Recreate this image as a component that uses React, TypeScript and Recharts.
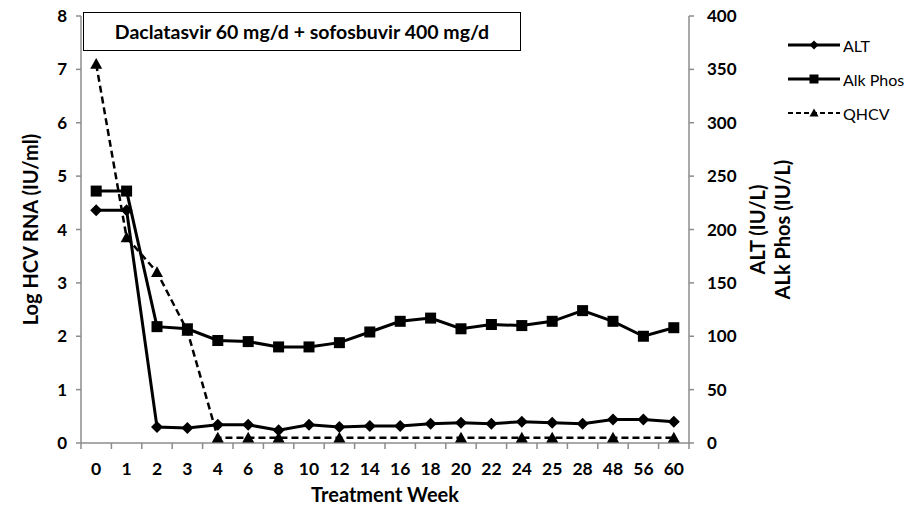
import React from "react";
import { LineChart, Line, XAxis, YAxis, Legend } from "recharts";

const weeks = ["0", "1", "2", "3", "4", "6", "8", "10", "12", "14", "16", "18", "20", "22", "24", "25", "28", "48", "56", "60"];
const alt = [218, 218, 15, 14, 17, 17, 12, 17, 15, 16, 16, 18, 19, 18, 20, 19, 18, 22, 22, 20];
const alkPhos = [236, 236, 109, 107, 96, 95, 90, 90, 94, 104, 114, 117, 107, 111, 110, 114, 124, 114, 100, 108];
const qhcv = [7.1, 3.85, 3.2, 2.1, 0.1, 0.1, 0.1, null, 0.1, null, null, null, 0.1, null, 0.1, 0.1, null, 0.1, null, 0.1];

const leftTicks = [0, 1, 2, 3, 4, 5, 6, 7, 8];
const rightTicks = [0, 50, 100, 150, 200, 250, 300, 350, 400];

const data = weeks.map((w, i) => ({
  week: w,
  alt: alt[i],
  alkPhos: alkPhos[i],
  qhcv: qhcv[i],
}));

const FONT = "Lato, 'Open Sans', sans-serif";
const AXIS = "#8c8c8c";
const W = 911;
const H = 513;
const M = { top: 16, right: 162, bottom: 0, left: 0 };
const LEFT_W = 81;
const RIGHT_W = 60;
const X_H = 70;
const BAND = (W - M.left - M.right - LEFT_W - RIGHT_W) / weeks.length;

const Diamond = ({ cx, cy, r = 6 }: any) => (
  <polygon points={`${cx},${cy - r} ${cx + r},${cy} ${cx},${cy + r} ${cx - r},${cy}`} fill="#000" />
);
const Square = ({ cx, cy, r = 5.5 }: any) => (
  <rect x={cx - r} y={cy - r} width={r * 2} height={r * 2} fill="#000" />
);
const Triangle = ({ cx, cy, r = 6 }: any) => (
  <polygon points={`${cx},${cy - r} ${cx + r},${cy + r * 0.8} ${cx - r},${cy + r * 0.8}`} fill="#000" />
);

// skip markers where the series has no value (QHCV gaps)
const dotOf = (Shape: any) => (p: any) => {
  if (p.cy == null || p.value == null) return <g key={p.key} />;
  return <Shape key={p.key} cx={p.cx} cy={p.cy} />;
};

// tick marks sit on the category boundaries, labels in the middle
const XTick = ({ x, y, payload, index }: any) => (
  <g>
    <line x1={x - BAND / 2} y1={y - 8} x2={x - BAND / 2} y2={y - 2} stroke={AXIS} strokeWidth={1.5} />
    {index === weeks.length - 1 && (
      <line x1={x + BAND / 2} y1={y - 8} x2={x + BAND / 2} y2={y - 2} stroke={AXIS} strokeWidth={1.5} />
    )}
    <text x={x} y={y + 24} textAnchor="middle" fontFamily={FONT} fontWeight="bold" fontSize={17.5} fill="#000">
      {payload.value}
    </text>
  </g>
);

const LeftTitle = ({ viewBox }: any) => {
  const cx = 30;
  const cy = viewBox.y + viewBox.height / 2;
  return (
    <text x={cx} y={cy} transform={`rotate(-90 ${cx} ${cy})`} textAnchor="middle" dominantBaseline="central"
      fontFamily={FONT} fontWeight="bold" fontSize={20} fill="#000">
      Log HCV RNA (IU/ml)
    </text>
  );
};

const RightTitle = ({ viewBox }: any) => {
  const cy = viewBox.y + viewBox.height / 2;
  const x1 = 757;
  const x2 = 782;
  return (
    <g>
      <text x={x1} y={cy} transform={`rotate(-90 ${x1} ${cy})`} textAnchor="middle" dominantBaseline="central"
        fontFamily={FONT} fontWeight="bold" fontSize={20} fill="#000">
        ALT (IU/L)
      </text>
      <text x={x2} y={cy} transform={`rotate(-90 ${x2} ${cy})`} textAnchor="middle" dominantBaseline="central"
        fontFamily={FONT} fontWeight="bold" fontSize={20} fill="#000">
        ALk Phos (IU/L)
      </text>
    </g>
  );
};

const legendItems = [
  { name: "ALT", Shape: Diamond, dash: undefined, width: 3 },
  { name: "Alk Phos", Shape: Square, dash: undefined, width: 3 },
  { name: "QHCV", Shape: Triangle, dash: "5 3", width: 2 },
];

const LegendBox = () => (
  <div style={{ fontFamily: FONT, fontSize: 16 }}>
    {legendItems.map((it) => (
      <div key={it.name} style={{ display: "flex", alignItems: "center", height: 34 }}>
        <svg width={54} height={14}>
          <line x1={1} y1={7} x2={53} y2={7} stroke="#000" strokeWidth={it.width} strokeDasharray={it.dash} />
          <it.Shape cx={27} cy={7} r={4.5} />
        </svg>
        <span style={{ marginLeft: 2, color: "#000" }}>{it.name}</span>
      </div>
    ))}
  </div>
);

export default function App() {
  return (
    <div style={{ position: "fixed", left: 0, top: 0, width: W, height: H, background: "#fff" }}>
      <LineChart width={W} height={H} data={data} margin={M}>
        <XAxis
          dataKey="week"
          scale="band"
          height={X_H}
          stroke={AXIS}
          strokeWidth={1.5}
          tickLine={false}
          tick={<XTick />}
          interval={0}
          label={{ value: "Treatment Week", position: "insideBottom", offset: 11, fontFamily: FONT, fontWeight: "bold", fontSize: 20, fill: "#000" }}
        />
        <YAxis
          yAxisId="left"
          width={LEFT_W}
          domain={[0, 8]}
          ticks={leftTicks}
          interval={0}
          stroke={AXIS}
          strokeWidth={1.5}
          tickSize={5}
          tickMargin={9}
          tick={{ fontFamily: FONT, fontWeight: "bold", fontSize: 17, fill: "#000" }}
          label={<LeftTitle />}
        />
        <YAxis
          yAxisId="right"
          orientation="right"
          width={RIGHT_W}
          domain={[0, 400]}
          ticks={rightTicks}
          interval={0}
          stroke={AXIS}
          strokeWidth={1.5}
          tickSize={5}
          tickMargin={13}
          tick={{ fontFamily: FONT, fontWeight: "bold", fontSize: 17, fill: "#000", textAnchor: "start" }}
          label={<RightTitle />}
        />
        <Legend
          layout="horizontal"
          verticalAlign="middle"
          content={<LegendBox />}
          wrapperStyle={{ position: "absolute", left: 787, top: 28, width: 124, height: 110 }}
        />
        <Line yAxisId="right" dataKey="alt" name="ALT" stroke="#000" strokeWidth={3} dot={dotOf(Diamond)} isAnimationActive={false} />
        <Line yAxisId="right" dataKey="alkPhos" name="Alk Phos" stroke="#000" strokeWidth={3} dot={dotOf(Square)} isAnimationActive={false} />
        <Line yAxisId="left" dataKey="qhcv" name="QHCV" stroke="#000" strokeWidth={2.5} strokeDasharray="7 4" connectNulls dot={dotOf(Triangle)} isAnimationActive={false} />
      </LineChart>
      <div
        style={{
          position: "absolute",
          left: 83,
          top: 12,
          width: 436,
          height: 37,
          border: "1.5px solid #000",
          background: "#fff",
          display: "flex",
          alignItems: "center",
          justifyContent: "center",
          fontFamily: FONT,
          fontWeight: "bold",
          fontSize: 19.5,
          color: "#000",
        }}
      >
        Daclatasvir 60 mg/d + sofosbuvir 400 mg/d
      </div>
    </div>
  );
}
